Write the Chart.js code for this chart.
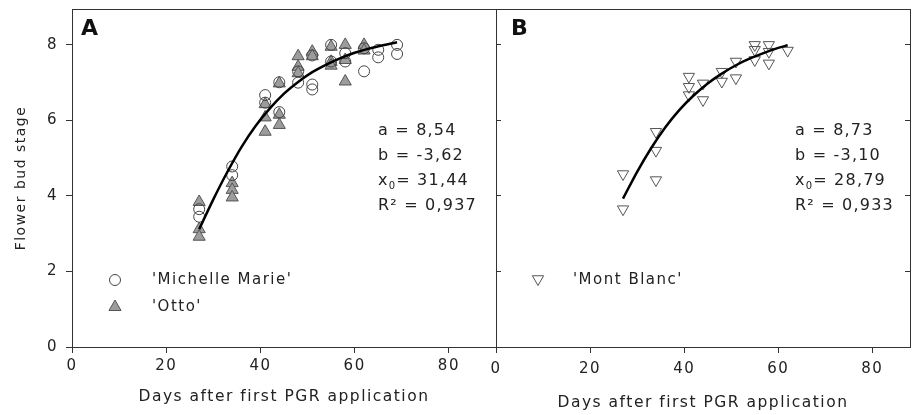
<!DOCTYPE html>
<html>
<head>
<meta charset="utf-8">
<script src="https://cdn.jsdelivr.net/npm/chart.js@4.4.1/dist/chart.umd.min.js"></script>
<style>
    html, body { margin: 0; padding: 0; background: #fff; }
    #wrap { position: relative; width: 922px; height: 415px; }
    #wrap canvas { position: absolute; left: 0; top: 0; }
</style>
</head>
<body>
<div id="wrap">
    <canvas id="chartA" width="922" height="415"></canvas>
    <canvas id="chartB" width="922" height="415"></canvas>
</div>
<script>
// ─── DATA ─────────────────────────────────────────────────────────────────────
// panel A, 'Michelle Marie' (open circles)
const michelleDays = [27, 27, 34, 34, 41, 41, 44, 44, 48, 48, 51, 51, 51, 55, 55, 58, 58, 62, 62, 65, 65, 69, 69];
const michelleVals = [3.65, 3.45, 4.78, 4.55, 6.67, 6.47, 7.01, 6.22, 7.30, 7.00, 7.72, 6.95, 6.82, 8.00, 7.56, 7.78, 7.56, 7.91, 7.30, 7.87, 7.67, 8.00, 7.76];

// panel A, 'Otto' (grey triangles)
const ottoDays = [27, 27, 27, 34, 34, 34, 41, 41, 41, 44, 44, 44, 48, 48, 48, 51, 51, 55, 55, 55, 58, 58, 58, 62, 62];
const ottoVals = [3.84, 3.12, 2.92, 4.34, 4.16, 3.96, 6.43, 6.08, 5.70, 6.98, 6.15, 5.88, 7.70, 7.42, 7.25, 7.82, 7.70, 7.95, 7.55, 7.45, 8.00, 7.60, 7.03, 8.00, 7.85];

// panel B, 'Mont Blanc' (open inverted triangles)
const montBlancDays = [27, 27, 34, 34, 34, 41, 41, 41, 44, 44, 48, 48, 51, 51, 55, 55, 55, 58, 58, 58, 62];
const montBlancVals = [4.58, 3.65, 5.70, 5.20, 4.42, 7.16, 6.89, 6.67, 6.98, 6.54, 7.29, 7.03, 7.56, 7.12, 8.00, 7.87, 7.60, 8.00, 7.82, 7.51, 7.85];

// fitted curves
const fitDaysA = [27, 30, 33, 36, 39, 42, 45, 48, 51, 54, 57, 60, 63, 66, 69];
const fitValsA = [3.12, 3.91, 4.64, 5.30, 5.86, 6.32, 6.71, 7.02, 7.28, 7.48, 7.65, 7.79, 7.90, 7.99, 8.07];
const fitDaysB = [27, 30, 33, 36, 39, 42, 45, 48, 51, 54, 57, 60, 62];
const fitValsB = [3.93, 4.64, 5.27, 5.82, 6.28, 6.66, 6.98, 7.24, 7.46, 7.64, 7.79, 7.92, 7.99];

const statsA = ['a = 8,54', 'b = -3,62', '31,44', 'R\u00B2 = 0,937'];
const statsB = ['a = 8,73', 'b = -3,10', '28,79', 'R\u00B2 = 0,933'];

const yTicks = [0, 2, 4, 6, 8];
const xTicks = [0, 20, 40, 60, 80];

// ─── STYLE ────────────────────────────────────────────────────────────────────
const FONT = "'DejaVu Sans', sans-serif";
const INK = '#222';
const LINE = '#333';

const pts = (xs, ys) => xs.map((x, i) => ({ x: x, y: ys[i] }));

const circleStyle = { pointStyle: 'circle', radius: 5.5, rotation: 0, borderWidth: 1 };
const triStyle = { pointStyle: 'triangle', radius: 7, rotation: 0, borderWidth: 1 };
const invTriStyle = { pointStyle: 'triangle', radius: 6.5, rotation: 180, borderWidth: 1 };

// letter spacing for the wide lettering of the original
const spacing = {
    id: 'spacing',
    beforeDraw(c) { c.ctx.letterSpacing = '1.5px'; }
};

// box round the plot area
const frame = {
    id: 'frame',
    afterDraw(c) {
        const a = c.chartArea, ctx = c.ctx;
        ctx.save();
        ctx.strokeStyle = LINE;
        ctx.lineWidth = 1;
        ctx.strokeRect(Math.round(a.left) + 0.5, Math.round(a.top) + 0.5,
            Math.round(a.right - a.left), Math.round(a.bottom - a.top));
        ctx.restore();
    }
};

function drawMarker(ctx, st, fill, stroke, x, y) {
    ctx.save();
    ctx.fillStyle = fill;
    ctx.strokeStyle = stroke;
    ctx.lineWidth = 1;
    Chart.helpers.drawPoint(ctx, st, x, y);
    ctx.restore();
}

function drawStats(ctx, lines, x) {
    const ys = [131, 156, 181, 206];
    ctx.save();
    ctx.letterSpacing = '1.2px';
    ctx.fillStyle = INK;
    ctx.textBaseline = 'middle';
    ctx.font = '16px ' + FONT;
    ctx.fillText(lines[0], x, ys[0]);
    ctx.fillText(lines[1], x, ys[1]);
    // x0 with subscript
    ctx.fillText('x', x, ys[2]);
    let w = ctx.measureText('x').width;
    ctx.font = '10px ' + FONT;
    ctx.fillText('0', x + w, ys[2] + 5);
    w += ctx.measureText('0').width;
    ctx.font = '16px ' + FONT;
    ctx.fillText('= ' + lines[2], x + w, ys[2]);
    ctx.fillText(lines[3], x, ys[3]);
    ctx.restore();
}

function panelLabel(ctx, txt, x, y) {
    ctx.save();
    ctx.fillStyle = '#111';
    ctx.font = 'bold 22px ' + FONT;
    ctx.textBaseline = 'middle';
    ctx.fillText(txt, x, y);
    ctx.restore();
}

function legendText(ctx, txt, x, y) {
    ctx.save();
    ctx.letterSpacing = '1.5px';
    ctx.fillStyle = INK;
    ctx.font = '15px ' + FONT;
    ctx.textBaseline = 'middle';
    ctx.fillText(txt, x, y);
    ctx.restore();
}

const decorA = {
    id: 'decorA',
    afterDraw(c) {
        const ctx = c.ctx;
        panelLabel(ctx, 'A', 81, 29);
        drawStats(ctx, statsA, 378);
        drawMarker(ctx, circleStyle, 'rgba(0,0,0,0)', '#444', 115, 280);
        legendText(ctx, "'Michelle Marie'", 152, 280);
        drawMarker(ctx, triStyle, '#9c9c9c', '#555', 115, 307);
        legendText(ctx, "'Otto'", 152, 307);
    }
};

const decorB = {
    id: 'decorB',
    afterDraw(c) {
        const ctx = c.ctx;
        panelLabel(ctx, 'B', 511, 29);
        drawStats(ctx, statsB, 795);
        drawMarker(ctx, invTriStyle, 'rgba(0,0,0,0)', '#555', 538, 279);
        legendText(ctx, "'Mont Blanc'", 573, 280);
    }
};

const tickFont = { family: FONT, size: 15 };
const titleFont = { family: FONT, size: 15.5 };

function xScale(max, tickPad, titlePadBottom) {
    return {
        type: 'linear', min: 0, max: max,
        border: { display: false },
        grid: { drawOnChartArea: false, color: LINE, tickLength: 6 },
        afterBuildTicks: s => { s.ticks = xTicks.map(v => ({ value: v })); },
        ticks: { color: INK, padding: tickPad, maxRotation: 0, font: tickFont },
        title: { display: true, text: 'Days after first PGR application', color: INK, font: titleFont, padding: { top: 0, bottom: titlePadBottom } },
        afterFit: s => { s.height = 68; s.paddingLeft = 0; s.paddingRight = 0; }
    };
}

function yScale(extra) {
    return Object.assign({
        min: 0, max: 8.95,
        border: { display: false },
        afterBuildTicks: s => { s.ticks = yTicks.map(v => ({ value: v })); }
    }, extra);
}

const common = {
    responsive: false,
    animation: false,
    events: [],
    plugins: { legend: { display: false }, tooltip: { enabled: false } }
};

// ─── PANEL A ──────────────────────────────────────────────────────────────────
new Chart(document.getElementById('chartA'), {
    type: 'scatter',
    data: {
        datasets: [
            {
                type: 'line', data: pts(fitDaysA, fitValsA), borderColor: '#000', borderWidth: 2.5,
                pointRadius: 0, cubicInterpolationMode: 'monotone', fill: false
            },
            {
                label: "'Michelle Marie'", data: pts(michelleDays, michelleVals), pointStyle: 'circle', pointRadius: 5.5,
                backgroundColor: 'rgba(0,0,0,0)', borderColor: '#444', borderWidth: 1
            },
            {
                label: "'Otto'", data: pts(ottoDays, ottoVals), pointStyle: 'triangle', pointRadius: 7,
                backgroundColor: '#9c9c9c', borderColor: '#555', borderWidth: 1
            }
        ]
    },
    options: {
        ...common,
        layout: { padding: { top: 9, right: 426, bottom: 0, left: 0 } },
        scales: {
            x: xScale(90, 4, 9),
            y: yScale({
                grid: { drawOnChartArea: false, color: LINE, tickLength: 6 },
                ticks: { color: INK, padding: 8, font: tickFont },
                title: { display: true, text: 'Flower bud stage', color: INK, font: { family: FONT, size: 14 }, padding: { top: 13, bottom: 0 } },
                afterFit: s => { s.width = 72; s.paddingTop = 0; s.paddingBottom = 0; }
            })
        }
    },
    plugins: [spacing, frame, decorA]
});

// ─── PANEL B ──────────────────────────────────────────────────────────────────
new Chart(document.getElementById('chartB'), {
    type: 'scatter',
    data: {
        datasets: [
            {
                type: 'line', data: pts(fitDaysB, fitValsB), borderColor: '#000', borderWidth: 2.5,
                pointRadius: 0, cubicInterpolationMode: 'monotone', fill: false
            },
            {
                label: "'Mont Blanc'", data: pts(montBlancDays, montBlancVals), pointStyle: 'triangle', pointRadius: 6.5,
                rotation: 180, backgroundColor: 'rgba(0,0,0,0)', borderColor: '#555', borderWidth: 1
            }
        ]
    },
    options: {
        ...common,
        layout: { padding: { top: 9, right: 0, bottom: 0, left: 0 } },
        scales: {
            x: xScale(88, 7, 3),
            y: yScale({
                grid: { drawOnChartArea: false, color: LINE, tickLength: -5 },
                ticks: { color: 'rgba(0,0,0,0)', font: tickFont },
                afterFit: s => { s.width = 496; s.paddingTop = 0; s.paddingBottom = 0; }
            }),
            y2: yScale({
                position: 'right',
                grid: { drawOnChartArea: false, color: LINE, tickLength: -5 },
                ticks: { color: 'rgba(0,0,0,0)', font: tickFont },
                afterFit: s => { s.width = 12; s.paddingTop = 0; s.paddingBottom = 0; }
            })
        }
    },
    plugins: [spacing, frame, decorB]
});
</script>
</body>
</html>
